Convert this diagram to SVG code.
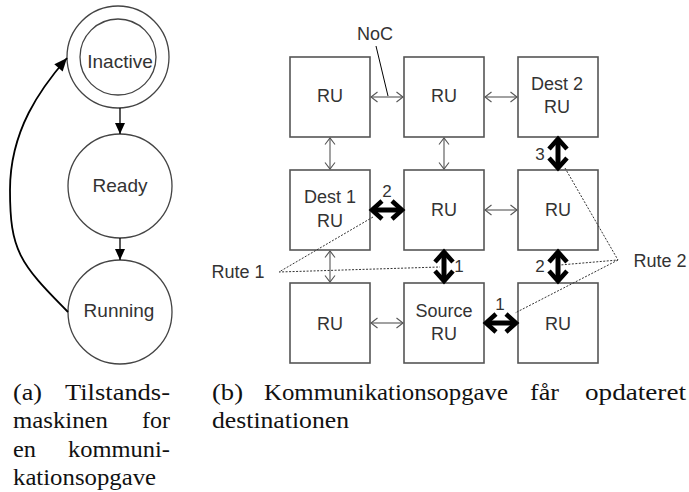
<svg xmlns="http://www.w3.org/2000/svg" width="689" height="492" viewBox="0 0 689 492">
  <style>
    .state { fill: #fff; stroke: #444; stroke-width: 1.3; }
    .box { fill: #fff; stroke: #555; stroke-width: 1.6; }
    .lbl { font-family: "Liberation Sans", Arial, sans-serif; fill: #333; text-anchor: middle; }
    .s19 { font-size: 19px; }
    .s18 { font-size: 18px; }
    .num { font-family: "Liberation Sans", Arial, sans-serif; font-size: 17px; fill: #333; text-anchor: middle; }
    .link { stroke: #555; stroke-width: 1.1; fill: none; marker-start: url(#thin); marker-end: url(#thin); }
    .route { stroke: #000; stroke-width: 5; fill: none; marker-start: url(#thick); marker-end: url(#thick); }
    .flow { stroke: #000; stroke-width: 1.3; fill: none; marker-end: url(#tri); }
    .dots { stroke: #333; stroke-width: 1; fill: none; stroke-dasharray: 2 1.5; }
    .cap { font-family: "Liberation Serif", "Times New Roman", serif; font-size: 23px; fill: #111; }
  </style>
  <defs>
    <marker id="thin" markerUnits="userSpaceOnUse" markerWidth="20" markerHeight="20" refX="0" refY="0" orient="auto-start-reverse" overflow="visible">
      <path d="M-6.5,-5 L0,0 L-6.5,5" fill="none" stroke="#555" stroke-width="1.1"/>
    </marker>
    <marker id="thick" markerUnits="userSpaceOnUse" markerWidth="30" markerHeight="30" refX="0" refY="0" orient="auto-start-reverse" overflow="visible">
      <path d="M-10,-9 L0,0 L-10,9" fill="none" stroke="#000" stroke-width="4.6"/>
    </marker>
    <marker id="tri" markerUnits="userSpaceOnUse" markerWidth="20" markerHeight="20" refX="0" refY="0" orient="auto" overflow="visible">
      <path d="M-11,-5 L0,0 L-11,5 Z" fill="#000"/>
    </marker>
    <marker id="triBig" markerUnits="userSpaceOnUse" markerWidth="20" markerHeight="20" refX="0" refY="0" orient="auto" overflow="visible">
      <path d="M-13,-5.5 L0,0 L-13,5.5 Z" fill="#000"/>
    </marker>
  </defs>

  <!-- (a) state machine -->
  <g id="state-inactive">
    <circle class="state" cx="118" cy="57" r="51"/>
    <circle class="state" cx="118" cy="57" r="38"/>
    <text class="lbl s19" x="120" y="68">Inactive</text>
  </g>
  <g id="state-ready">
    <circle class="state" cx="120" cy="186" r="52"/>
    <text class="lbl s19" x="120" y="192">Ready</text>
  </g>
  <g id="state-running">
    <circle class="state" cx="120" cy="312" r="52"/>
    <text class="lbl s19" x="119" y="317">Running</text>
  </g>
  <g id="state-transitions">
    <line class="flow" x1="120" y1="108" x2="120" y2="134"/>
    <line class="flow" x1="120" y1="238" x2="120" y2="260"/>
    <path d="M68,312 C19,263 10,250 10,190 C10,130 41,88 67,58" fill="none" stroke="#000" stroke-width="1.8" marker-end="url(#triBig)"/>
  </g>

  <!-- (b) mesh of reconfigurable units -->
  <g id="ru-0-0"><rect class="box" x="290" y="57" width="80" height="80"/><text class="lbl s18" x="330" y="102">RU</text></g>
  <g id="ru-0-1"><rect class="box" x="404" y="57" width="80" height="80"/><text class="lbl s18" x="444" y="102">RU</text></g>
  <g id="ru-0-2"><rect class="box" x="518" y="57" width="80" height="80"/><text class="lbl s18" x="557" y="90">Dest 2</text><text class="lbl s18" x="557" y="113">RU</text></g>
  <g id="ru-1-0"><rect class="box" x="290" y="170" width="80" height="80"/><text class="lbl s18" x="330" y="203">Dest 1</text><text class="lbl s18" x="330" y="227">RU</text></g>
  <g id="ru-1-1"><rect class="box" x="404" y="170" width="80" height="80"/><text class="lbl s18" x="444" y="216">RU</text></g>
  <g id="ru-1-2"><rect class="box" x="518" y="170" width="80" height="80"/><text class="lbl s18" x="558" y="216">RU</text></g>
  <g id="ru-2-0"><rect class="box" x="290" y="283" width="80" height="80"/><text class="lbl s18" x="330" y="330">RU</text></g>
  <g id="ru-2-1"><rect class="box" x="404" y="283" width="80" height="80"/><text class="lbl s18" x="444" y="317">Source</text><text class="lbl s18" x="444" y="340">RU</text></g>
  <g id="ru-2-2"><rect class="box" x="518" y="283" width="80" height="80"/><text class="lbl s18" x="558" y="330">RU</text></g>

  <g id="connectors">
    <!-- NoC links -->
    <line class="link" x1="371" y1="97" x2="403" y2="97"/>
    <line class="link" x1="485" y1="97" x2="517" y2="97"/>
    <line class="link" x1="330" y1="138" x2="330" y2="169"/>
    <line class="link" x1="444" y1="138" x2="444" y2="169"/>
    <line class="link" x1="485" y1="210" x2="517" y2="210"/>
    <line class="link" x1="330" y1="251" x2="330" y2="282"/>
    <line class="link" x1="371" y1="323" x2="403" y2="323"/>
    <!-- active routes -->
    <line class="route" x1="372" y1="210" x2="402" y2="210"/>
    <line class="route" x1="444" y1="252" x2="444" y2="281"/>
    <line class="route" x1="486" y1="323" x2="516" y2="323"/>
    <line class="route" x1="558" y1="252" x2="558" y2="281"/>
    <line class="route" x1="558" y1="139" x2="558" y2="168"/>
    <!-- callouts -->
    <line x1="376" y1="46" x2="388" y2="96" stroke="#000" stroke-width="1"/>
    <polyline class="dots" points="373,217 279,272 440,267"/>
    <polyline class="dots" points="565,168 618,260 560,265"/>
    <line class="dots" x1="618" y1="260" x2="515" y2="313"/>
  </g>

  <g id="labels">
    <text class="lbl s18" x="375" y="40">NoC</text>
    <text class="lbl s18" x="238" y="278">Rute 1</text>
    <text class="lbl s18" x="660" y="267">Rute 2</text>
    <text class="num" x="387" y="197">2</text>
    <text class="num" x="459" y="272">1</text>
    <text class="num" x="500" y="310">1</text>
    <text class="num" x="540" y="272">2</text>
    <text class="num" x="540" y="160">3</text>
  </g>

  <g id="captions">
    <text class="cap" x="13" y="400" textLength="29" lengthAdjust="spacingAndGlyphs">(a)</text>
    <text class="cap" x="65" y="400" textLength="105" lengthAdjust="spacingAndGlyphs">Tilstands-</text>
    <text class="cap" x="13" y="428" textLength="95" lengthAdjust="spacingAndGlyphs">maskinen</text>
    <text class="cap" x="142" y="428" textLength="28" lengthAdjust="spacingAndGlyphs">for</text>
    <text class="cap" x="13" y="457" textLength="23" lengthAdjust="spacingAndGlyphs">en</text>
    <text class="cap" x="68" y="457" textLength="102" lengthAdjust="spacingAndGlyphs">kommuni-</text>
    <text class="cap" x="13" y="485" textLength="143" lengthAdjust="spacingAndGlyphs">kationsopgave</text>
    <text class="cap" x="212" y="400" textLength="31" lengthAdjust="spacingAndGlyphs">(b)</text>
    <text class="cap" x="264" y="400" textLength="244" lengthAdjust="spacingAndGlyphs">Kommunikationsopgave</text>
    <text class="cap" x="530" y="400" textLength="29" lengthAdjust="spacingAndGlyphs">får</text>
    <text class="cap" x="585" y="400" textLength="101" lengthAdjust="spacingAndGlyphs">opdateret</text>
    <text class="cap" x="212" y="428" textLength="137" lengthAdjust="spacingAndGlyphs">destinationen</text>
  </g>
</svg>
